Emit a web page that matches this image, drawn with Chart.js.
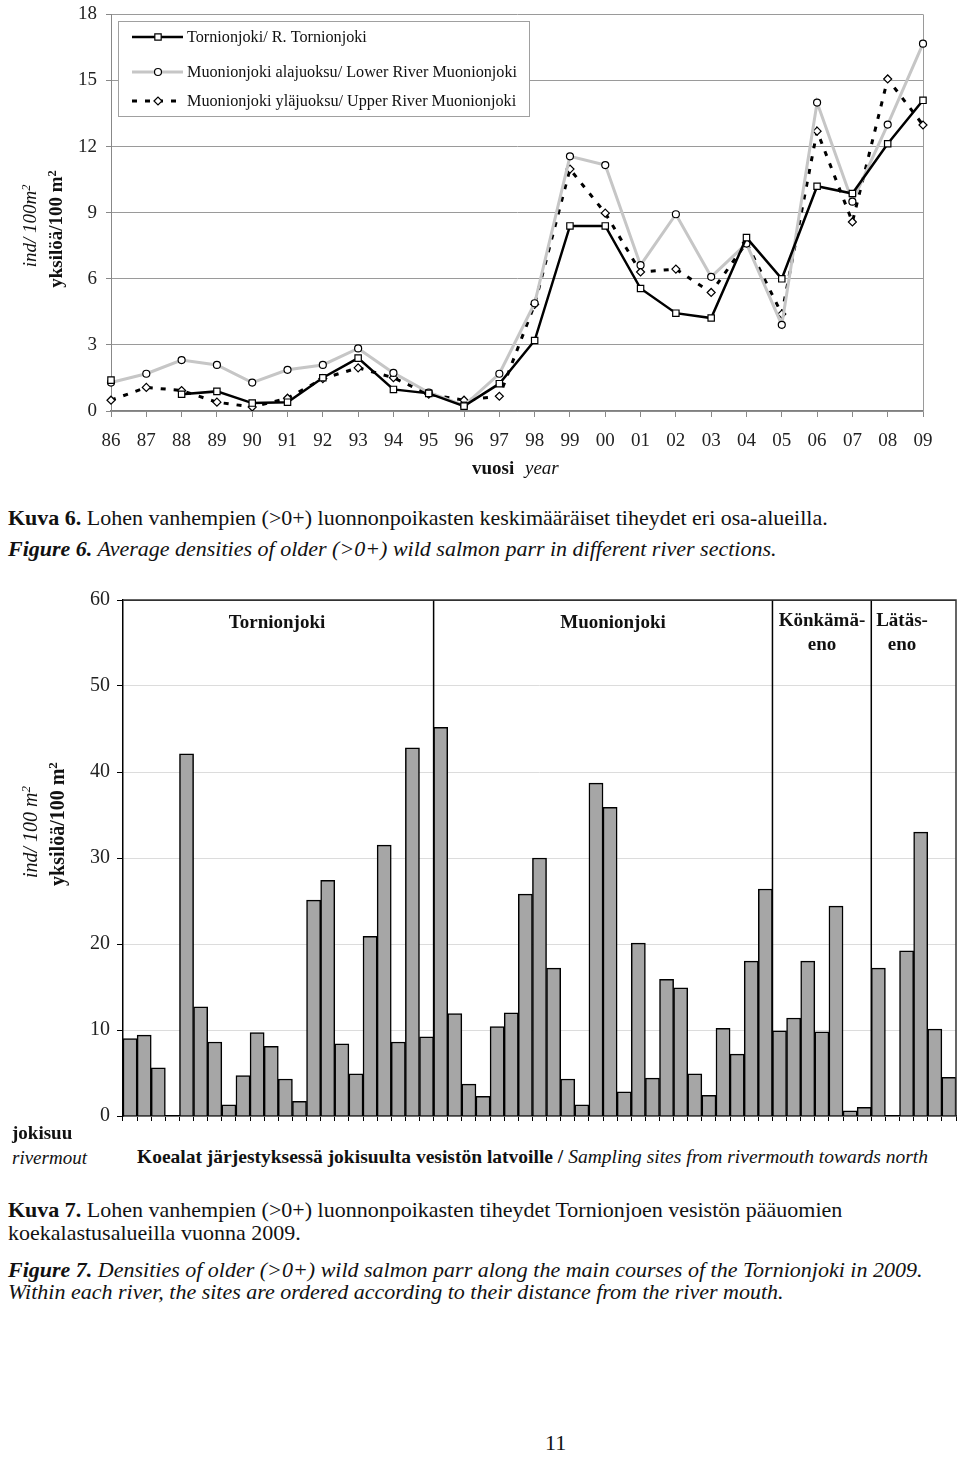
<!DOCTYPE html>
<html>
<head>
<meta charset="utf-8">
<script src="https://cdn.jsdelivr.net/npm/chart.js@4.4.1/dist/chart.umd.min.js"></script>
<style>
  body{margin:0;background:#fff;width:960px;height:1461px;position:relative;overflow:hidden;
       font-family:"Liberation Serif","Times New Roman",serif;color:#111}
  .abs{position:absolute;white-space:nowrap;line-height:22px}
  .rot{position:absolute;white-space:nowrap;transform:translate(-50%,-50%) rotate(-90deg);line-height:22px}
  sup{font-size:65%;vertical-align:top;position:relative;top:-4px}
  #c1{position:absolute;left:0;top:-6px}
  #c2{position:absolute;left:0;top:580px}
  .cap{font-size:22px;line-height:24px}
  .sec{position:absolute;font-weight:bold;font-size:19px;text-align:center;line-height:24px;transform:translateX(-50%);white-space:nowrap}
</style>
</head>
<body>
<canvas id="c1" width="960" height="466"></canvas>
<canvas id="c2" width="960" height="560"></canvas>

<!-- top chart texts -->
<div class="rot" style="left:30px;top:226px;font-size:19px;font-style:italic">ind/ 100m<sup>2</sup></div>
<div class="rot" style="left:56px;top:229px;font-size:19px;font-weight:bold">yksilöä/100 m<sup>2</sup></div>
<div class="abs" style="left:472px;top:457px;font-size:19px"><b>vuosi</b> <i style="margin-left:6px">year</i></div>

<div class="abs cap" style="left:8px;top:506px"><b>Kuva 6.</b> Lohen vanhempien (&gt;0+) luonnonpoikasten keskimääräiset tiheydet eri osa-alueilla.</div>
<div class="abs cap" style="left:8px;top:537px;font-style:italic"><b>Figure 6.</b> Average densities of older (&gt;0+) wild salmon parr in different river sections.</div>

<!-- bottom chart texts -->
<div class="rot" style="left:30px;top:832px;font-size:20px;font-style:italic">ind/ 100 m<sup>2</sup></div>
<div class="rot" style="left:57px;top:824px;font-size:20px;font-weight:bold">yksilöä/100 m<sup>2</sup></div>
<div class="sec" style="left:277px;top:610px">Tornionjoki</div>
<div class="sec" style="left:613px;top:610px">Muonionjoki</div>
<div class="sec" style="left:822px;top:608px">Könkämä-<br>eno</div>
<div class="sec" style="left:902px;top:608px">Lätäs-<br>eno</div>
<div class="abs" style="left:12px;top:1122px;font-size:19px;font-weight:bold">jokisuu</div>
<div class="abs" style="left:12px;top:1147px;font-size:19px;font-style:italic">rivermout</div>
<div class="abs" style="left:137px;top:1146px;font-size:19.5px"><b>Koealat järjestyksessä jokisuulta vesistön latvoille /</b> <i>Sampling sites from rivermouth towards north</i></div>

<div class="abs cap" style="left:8px;top:1198px"><b>Kuva 7.</b> Lohen vanhempien (&gt;0+) luonnonpoikasten tiheydet Tornionjoen vesistön pääuomien</div>
<div class="abs cap" style="left:8px;top:1221px">koekalastusalueilla vuonna 2009.</div>
<div class="abs cap" style="left:8px;top:1258px;font-style:italic"><b>Figure 7.</b> Densities of older (&gt;0+) wild salmon parr along the main courses of the Tornionjoki in 2009.</div>
<div class="abs cap" style="left:8px;top:1280px;font-style:italic">Within each river, the sites are ordered according to their distance from the river mouth.</div>
<div class="abs cap" style="left:545px;top:1431px">11</div>

<script>
// --- Figure 6: yearly mean densities (ind/100 m2)
const years = ['86','87','88','89','90','91','92','93','94','95','96','97',
               '98','99','00','01','02','03','04','05','06','07','08','09'];
const tornionjoki = [1.4, null, 0.76, 0.89, 0.36, 0.4, 1.51, 2.4, 0.98, 0.8, 0.22, 1.24,
                     3.2, 8.4, 8.4, 5.56, 4.44, 4.22, 7.87, 6.0, 10.2, 9.87, 12.13, 14.1];
const muonioLower = [1.29, 1.69, 2.31, 2.09, 1.29, 1.87, 2.09, 2.84, 1.73, 0.84, 0.25, 1.69,
                     4.89, 11.56, 11.16, 6.62, 8.93, 6.09, 7.6, 3.91, 14.0, 9.5, 13.0, 16.67];
const muonioUpper = [0.49, 1.07, 0.93, 0.4, 0.18, 0.58, 1.47, 1.96, 1.51, 0.76, 0.49, 0.67,
                     4.84, 10.98, 8.98, 6.31, 6.44, 5.38, 7.64, 4.4, 12.7, 8.58, 15.07, 12.98];
const seriesNames = ['Tornionjoki/ R. Tornionjoki',
                     'Muonionjoki alajuoksu/ Lower River Muonionjoki',
                     'Muonionjoki yläjuoksu/ Upper River Muonionjoki'];
const yTicks1 = [0, 3, 6, 9, 12, 15, 18];

// --- Figure 7: site densities 2009, ordered from river mouth
const siteDensity = [9.0, 9.4, 5.6, 0, 42.1, 12.7, 8.6, 1.3, 4.7, 9.7,
                     8.1, 4.3, 1.7, 25.1, 27.4, 8.4, 4.9, 20.9, 31.5, 8.6,
                     42.8, 9.2, 45.2, 11.9, 3.7, 2.3, 10.4, 12.0, 25.8, 30.0,
                     17.2, 4.3, 1.3, 38.7, 35.9, 2.8, 20.1, 4.4, 15.9, 14.9,
                     4.9, 2.4, 10.2, 7.2, 18.0, 26.4, 9.9, 11.4, 18.0, 9.8,
                     24.4, 0.6, 1.0, 17.2, 0, 19.2, 33.0, 10.1, 4.5];
const rivers = ['Tornionjoki', 'Muonionjoki', 'Könkämäeno', 'Lätäseno'];
const sitesPerRiver = [22, 24, 7, 6];
const siteLabels = siteDensity.map((v, i) => String(i + 1));

const serif = '"Liberation Serif","Times New Roman",serif';

const legendBox = {
  id: 'legendBox',
  afterDraw(chart){
    const ctx = chart.ctx, off = 6;
    ctx.save();
    ctx.fillStyle = '#fff'; ctx.strokeStyle = '#a0a0a0'; ctx.lineWidth = 1;
    ctx.fillRect(118.5, 21.5 + off, 411, 95);
    ctx.strokeRect(118.5, 21.5 + off, 411, 95);
    const rows = [37, 72, 101];
    chart.data.datasets.forEach((ds, i) => {
      const y = rows[i] + off;
      ctx.strokeStyle = ds.borderColor; ctx.lineWidth = ds.borderWidth;
      ctx.setLineDash(ds.borderDash || []);
      ctx.beginPath(); ctx.moveTo(132, y); ctx.lineTo(183, y); ctx.stroke();
      ctx.setLineDash([]);
      ctx.fillStyle = '#fff'; ctx.strokeStyle = '#000'; ctx.lineWidth = 1.2;
      Chart.helpers.drawPoint(ctx, {pointStyle: ds.pointStyle, radius: ds.pointRadius, borderWidth: 1.2, rotation: 0}, 158, y);
      ctx.fillStyle = '#111'; ctx.font = '16.2px ' + serif; ctx.textBaseline = 'middle';
      ctx.fillText(ds.label, 187, y + 1);
    });
    ctx.restore();
  },
  beforeDatasetsDraw(chart){
    const {ctx, chartArea: a} = chart;
    ctx.save(); ctx.strokeStyle = '#9a9a9a'; ctx.lineWidth = 1;
    ctx.beginPath(); ctx.moveTo(a.right + 0.5, a.top); ctx.lineTo(a.right + 0.5, a.bottom); ctx.stroke();
    ctx.restore();
  }
};

new Chart(document.getElementById('c1'), {
  type: 'line',
  data: {
    labels: years,
    datasets: [
      { label: seriesNames[0], data: tornionjoki, borderColor: '#000', borderWidth: 2.5,
        pointStyle: 'rect', pointRadius: 4.5, pointBackgroundColor: '#fff', pointBorderColor: '#000', pointBorderWidth: 1.2 },
      { label: seriesNames[1], data: muonioLower, borderColor: '#c6c6c6', borderWidth: 3,
        pointStyle: 'circle', pointRadius: 3.5, pointBackgroundColor: '#fff', pointBorderColor: '#000', pointBorderWidth: 1.2 },
      { label: seriesNames[2], data: muonioUpper, borderColor: '#000', borderWidth: 3, borderDash: [5, 8],
        pointStyle: 'rectRot', pointRadius: 4, pointBackgroundColor: '#fff', pointBorderColor: '#000', pointBorderWidth: 1.2 }
    ]
  },
  options: {
    responsive: false, animation: false, spanGaps: false,
    layout: { padding: { top: 12, right: 37, left: 0, bottom: 0 } },
    plugins: { legend: { display: false }, tooltip: { enabled: false } },
    elements: { line: { tension: 0 } },
    scales: {
      x: {
        grid: { drawOnChartArea: false, tickLength: 6, color: '#888' },
        border: { color: '#808080', width: 1.5 },
        ticks: { font: { family: serif, size: 19 }, color: '#222', padding: 13, autoSkip: false, maxRotation: 0 },
        afterFit(s){ s.height = 49; }
      },
      y: {
        min: 0, max: 18,
        afterBuildTicks(s){ s.ticks = yTicks1.map(v => ({ value: v })); },
        grid: { color: '#9a9a9a', tickLength: 5, tickColor: '#888' },
        border: { color: '#888', width: 1 },
        ticks: { font: { family: serif, size: 19 }, color: '#222', padding: 9 },
        afterFit(s){ s.width = 111; }
      }
    }
  },
  plugins: [legendBox]
});

const sectionLines = {
  id: 'sectionLines',
  afterDatasetsDraw(chart){
    const {ctx, chartArea: a, scales: {x}} = chart;
    ctx.save(); ctx.strokeStyle = '#000'; ctx.lineWidth = 1.5;
    let idx = 0;
    sitesPerRiver.slice(0, -1).forEach(n => {
      idx += n;
      const px = (x.getPixelForValue(idx - 1) + x.getPixelForValue(idx)) / 2;
      ctx.beginPath(); ctx.moveTo(px, a.top); ctx.lineTo(px, a.bottom); ctx.stroke();
    });
    ctx.strokeStyle = '#333';
    ctx.beginPath(); ctx.moveTo(a.left, a.top); ctx.lineTo(a.right, a.top); ctx.lineTo(a.right, a.bottom); ctx.stroke();
    ctx.restore();
  }
};

new Chart(document.getElementById('c2'), {
  type: 'bar',
  data: {
    labels: siteLabels,
    datasets: [{ data: siteDensity, backgroundColor: '#a6a6a6', borderColor: '#000', borderWidth: 1.5,
                 barPercentage: 1, categoryPercentage: 1 }]
  },
  options: {
    responsive: false, animation: false,
    layout: { padding: { top: 20, right: 4, left: 0, bottom: 0 } },
    plugins: { legend: { display: false }, tooltip: { enabled: false } },
    scales: {
      x: {
        grid: { drawOnChartArea: false, tickLength: 5, color: '#000', offset: true },
        border: { color: '#000', width: 1.5 },
        ticks: { display: false },
        afterFit(s){ s.height = 24; }
      },
      y: {
        min: 0, max: 60,
        ticks: { stepSize: 10, font: { family: serif, size: 20 }, color: '#222', padding: 7 },
        grid: { color: c => c.tick && c.tick.value === 60 ? '#333' : '#dcdcdc', tickLength: 6, tickColor: '#000' },
        border: { color: '#000', width: 1.5 },
        afterFit(s){ s.width = 123; }
      }
    }
  },
  plugins: [sectionLines]
});
</script>
</body>
</html>
